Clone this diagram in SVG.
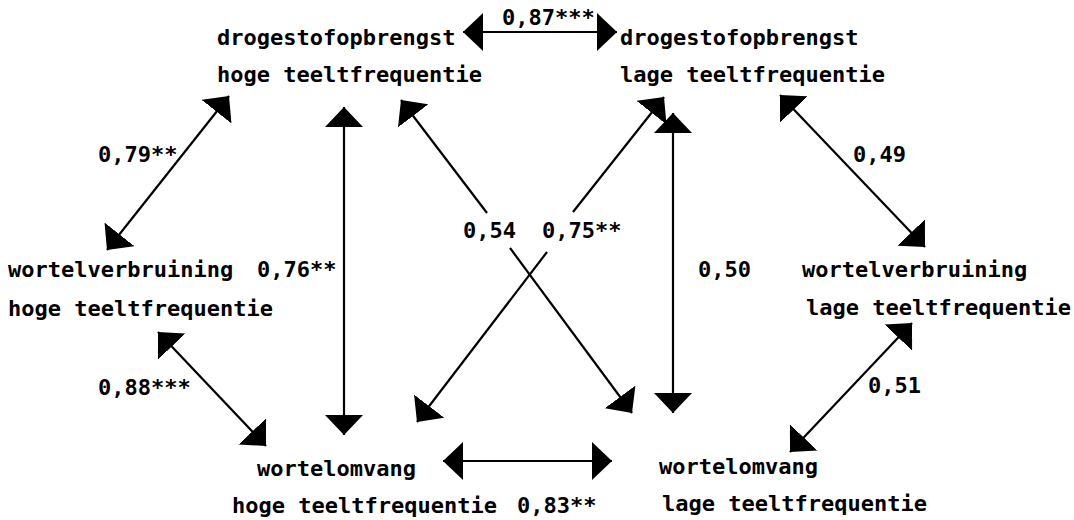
<svg xmlns="http://www.w3.org/2000/svg" width="1074" height="520" viewBox="0 0 1074 520">
<style>
text { font-family: "DejaVu Sans Mono", "Liberation Mono", monospace; font-weight: bold; font-size: 22px; fill: #000; }
.c { stroke: #000; stroke-width: 2.2; fill: none; }
</style>
<defs>
<marker id="ah" viewBox="0 0 20 38" refX="20" refY="19" markerWidth="20" markerHeight="38" markerUnits="userSpaceOnUse" orient="auto-start-reverse">
<path d="M0,0 L20,19 L0,38 Z" fill="#000"/>
</marker>
</defs>
<rect width="1074" height="520" fill="#fff"/>
<g id="connectors">
<line class="c" x1="463" y1="32" x2="617" y2="32" marker-start="url(#ah)" marker-end="url(#ah)"/>
<line class="c" x1="229" y1="96" x2="107" y2="250" marker-start="url(#ah)" marker-end="url(#ah)"/>
<line class="c" x1="344" y1="107" x2="344" y2="435" marker-start="url(#ah)" marker-end="url(#ah)"/>
<line class="c" x1="158" y1="332" x2="266" y2="446" marker-start="url(#ah)" marker-end="url(#ah)"/>
<line class="c" x1="487" y1="213" x2="401" y2="100" marker-end="url(#ah)"/>
<line class="c" x1="510" y1="248" x2="632" y2="413" marker-end="url(#ah)"/>
<line class="c" x1="573" y1="212" x2="664" y2="97" marker-end="url(#ah)"/>
<line class="c" x1="547" y1="252" x2="417" y2="422" marker-end="url(#ah)"/>
<line class="c" x1="673" y1="113" x2="673" y2="413" marker-start="url(#ah)" marker-end="url(#ah)"/>
<line class="c" x1="780" y1="95" x2="925" y2="247" marker-start="url(#ah)" marker-end="url(#ah)"/>
<line class="c" x1="912" y1="323" x2="790" y2="452" marker-start="url(#ah)" marker-end="url(#ah)"/>
<line class="c" x1="443" y1="461" x2="612" y2="461" marker-start="url(#ah)" marker-end="url(#ah)"/>
<text x="502" y="25">0,87***</text>
<text x="98" y="162">0,79**</text>
<text x="257" y="277">0,76**</text>
<text x="98" y="395">0,88***</text>
<text x="463" y="238">0,54</text>
<text x="542" y="238">0,75**</text>
<text x="698" y="277">0,50</text>
<text x="853" y="162">0,49</text>
<text x="868" y="393">0,51</text>
<text x="517" y="513">0,83**</text>
</g>
<g id="node-ds-hoog">
<text x="217" y="45">drogestofopbrengst</text>
<text x="217" y="82">hoge teeltfrequentie</text>
</g>
<g id="node-ds-laag">
<text x="620" y="45">drogestofopbrengst</text>
<text x="620" y="82">lage teeltfrequentie</text>
</g>
<g id="node-wv-hoog">
<text x="8" y="277">wortelverbruining</text>
<text x="8" y="316">hoge teeltfrequentie</text>
</g>
<g id="node-wv-laag">
<text x="802" y="277">wortelverbruining</text>
<text x="806" y="315">lage teeltfrequentie</text>
</g>
<g id="node-wo-hoog">
<text x="257" y="476">wortelomvang</text>
<text x="232" y="513">hoge teeltfrequentie</text>
</g>
<g id="node-wo-laag">
<text x="659" y="474">wortelomvang</text>
<text x="662" y="511">lage teeltfrequentie</text>
</g>
</svg>
